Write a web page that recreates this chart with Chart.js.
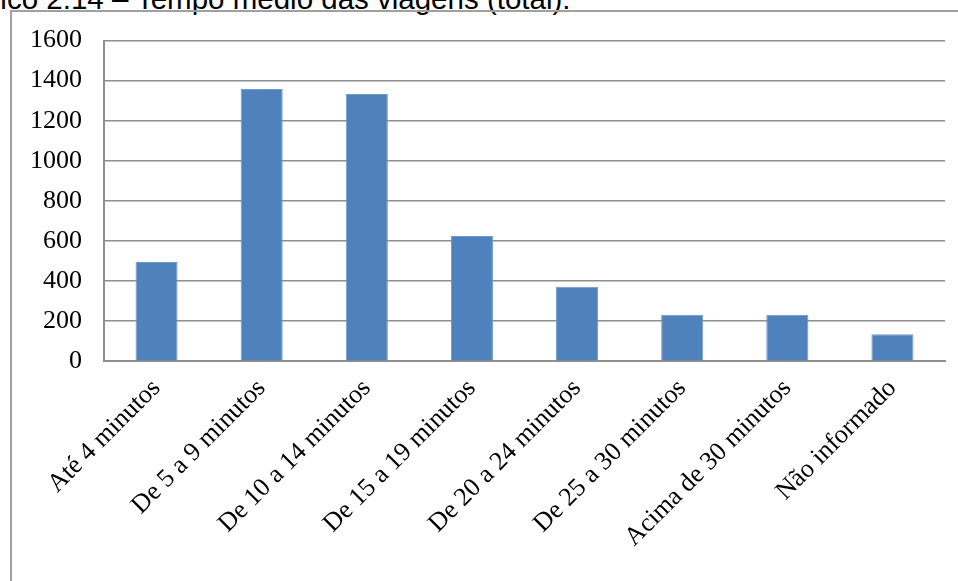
<!DOCTYPE html>
<html>
<head>
<meta charset="utf-8">
<script src="https://cdn.jsdelivr.net/npm/chart.js@4.4.1/dist/chart.umd.min.js"></script>
<style>
  html, body { margin: 0; padding: 0; background: #fff; }
  body { width: 958px; height: 581px; position: relative; overflow: hidden; }
  #caption {
    position: absolute; left: -57px; top: -16px;
    font: 29.5px "Liberation Sans", Arial, sans-serif; line-height: 29.5px;
    color: #000; white-space: nowrap;
  }
  #frame {
    position: absolute; left: 10px; top: 10px; right: -4px; bottom: -4px;
    border-left: 2px solid #a0a0a0; border-top: 2px solid #a0a0a0;
  }
  #wrap { position: absolute; left: 8px; top: 3px; width: 950px; height: 578px; }
</style>
</head>
<body>
<div id="caption">Gráfico 2.14 – Tempo médio das viagens (total):</div>
<div id="frame"></div>
<div id="wrap"><canvas id="grafico"></canvas></div>
<script>
// categorias e valores
const categorias = [
    "Até 4 minutos", "De 5 a 9 minutos", "De 10 a 14 minutos", "De 15 a 19 minutos",
    "De 20 a 24 minutos", "De 25 a 30 minutos", "Acima de 30 minutos", "Não informado"
];
const viagens = [495, 1358, 1333, 625, 372, 232, 232, 134];
const eixoY = [0, 200, 400, 600, 800, 1000, 1200, 1400, 1600];

const fonteEixo = { family: "'Liberation Serif', 'DejaVu Serif', serif", size: 26 };

const ctx = document.getElementById("grafico").getContext("2d");
new Chart(ctx, {
    type: 'bar',
    data: {
        labels: categorias,
        datasets: [{
            data: viagens,
            backgroundColor: '#4f81bd',
            borderColor: '#6f98cc',
            borderWidth: 1,
            categoryPercentage: 0.8,
            barPercentage: 0.5
        }]
    },
    options: {
        responsive: true,
        maintainAspectRatio: false,
        animation: false,
        layout: { padding: { top: 0, right: 13, left: 0, bottom: 16 } },
        plugins: { legend: { display: false }, tooltip: { enabled: false } },
        scales: {
            x: {
                grid: { display: false, drawTicks: false },
                border: { color: '#8e8e8e', width: 2 },
                ticks: {
                    color: '#000', font: fonteEixo, padding: 12,
                    minRotation: 45, maxRotation: 45, autoSkip: false
                }
            },
            y: {
                min: eixoY[0],
                max: eixoY[eixoY.length - 1],
                afterBuildTicks: axis => { axis.ticks = eixoY.map(v => ({ value: v })); },
                grid: { color: '#8e8e8e', lineWidth: 1.5, drawTicks: false },
                border: { color: '#8e8e8e', width: 2 },
                ticks: { color: '#000', font: fonteEixo, padding: 22, callback: v => String(v) }
            }
        }
    }
});
</script>
</body>
</html>
